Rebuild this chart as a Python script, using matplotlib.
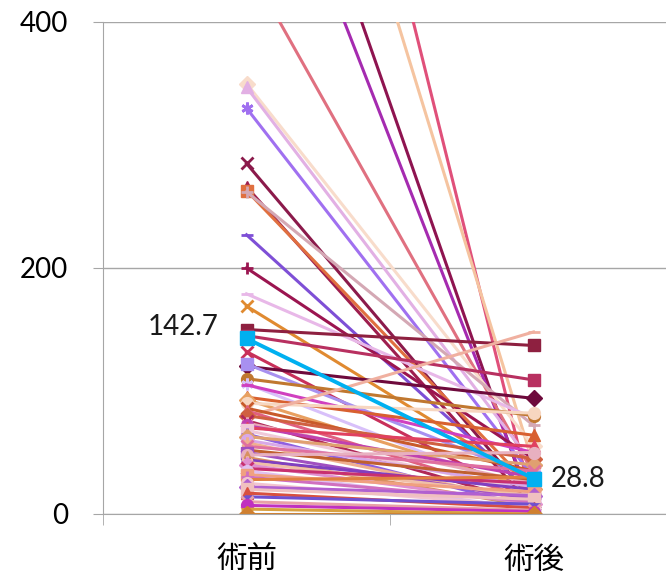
import matplotlib
matplotlib.use("Agg")
import matplotlib.pyplot as plt
from matplotlib.ticker import FixedLocator

plt.rcParams['font.family'] = ['Lato', 'Noto Sans CJK JP', 'DejaVu Sans']

categories = ['術前', '術後']

# one value pair per patient: before / after surgery
pre_values = [947, 800, 668, 604, 448, 350, 347, 330, 285, 266,
              263, 262, 227, 200, 179, 169, 150, 145, 132, 120,
              122, 110, 106, 105, 95, 93, 90, 79, 86, 84,
              80, 76, 74, 72, 70, 68, 65, 63, 60, 58,
              55, 52, 50, 48, 46, 44, 42, 40, 37, 35,
              32, 30, 28, 25, 22, 20, 17, 14, 10, 7,
              4, 0]
post_values = [6, 40, 0, 6, 33, 55, 40, 30, 10, 5,
               20, 72, 15, 45, 78, 25, 137, 109, 10, 94,
               30, 80, 15, 50, 64, 20, 82, 148, 35, 12,
               45, 8, 25, 30, 55, 18, 5, 40, 22, 10,
               35, 28, 12, 50, 6, 20, 15, 8, 25, 4,
               18, 10, 30, 6, 15, 12, 5, 8, 3, 2,
               0, 0]

mean_values = [142.7, 28.8]

AST = (6, 2, 0)
line_colors = ['#E0507A', '#F5C4A0', '#8E1450', '#A52BB0', '#E07080', '#F8DCCB', '#E2B0E4', '#A070F0', '#8B1A4B', '#9E1E4E',
               '#E07040', '#D4A8B4', '#7E4FD6', '#9B1550', '#E8B8E8', '#E08A30', '#8E2040', '#B83060', '#C8305A', '#6E0A3C',
               '#A890F0', '#C07830', '#D8C0FA', '#D040C0', '#D86030', '#E8A060', '#F7D6C0', '#F0B0A0', '#C85A2A', '#E06080',
               '#D06040', '#B02858', '#E8A8B8', '#C040B0', '#E04060', '#F0C8D8', '#9060E0', '#E0A070', '#D8A8E8', '#F0B090',
               '#E070A0', '#C06030', '#A050C0', '#E8B0C0', '#D89060', '#8040C0', '#F0C0A8', '#E090D0', '#C83070', '#E0C0F0',
               '#F0A080', '#D070C0', '#E08040', '#F2C4D0', '#B060D0', '#F0C0C0', '#D85040', '#7050D0', '#E8A0A8', '#C030C0',
               '#D8A040', '#D08030']
line_markers = ['o', 'D', 's', '^', 'x', 'D', '^', AST, 'x', '^',
                's', '+', '_', '+', '_', 'x', 's', 's', 'x', 'D',
                's', 'o', AST, '_', '^', 'D', 'o', '_', 'x', '^',
                'D', 'x', AST, 'o', '^', 's', '+', 'D', 'o', AST,
                'x', '_', 's', 'o', '^', '_', AST, 'D', 'x', 'o',
                's', '+', '_', 'o', 'D', 's', '^', '_', 'x', 'o',
                '_', 'D']

fig = plt.figure(figsize=(6.66, 5.8), dpi=100)
ax = fig.add_axes([103 / 666, 66 / 580, 574 / 666, 492 / 580])

x = [0, 1]
for i in range(len(pre_values)):
    m = line_markers[i]
    mew = 2.0 if m in ('x', '+', '_', AST) else 1.0
    ax.plot(x, [pre_values[i], post_values[i]], color=line_colors[i], lw=2.2,
            marker=m, markersize=8.5, markeredgewidth=mew, zorder=2)

ax.plot(x, mean_values, color='#00B0F0', lw=2.8, marker='s', markersize=10, zorder=5)
ax.annotate(f'{mean_values[0]:.1f}', (0, mean_values[0]), xytext=(-28, 11),
            textcoords='offset pixels', ha='right', va='center', fontsize=20, color='#1a1a1a')
ax.annotate(f'{mean_values[1]:.1f}', (1, mean_values[1]), xytext=(17, 0),
            textcoords='offset pixels', ha='left', va='center', fontsize=20, color='#1a1a1a')

ax.set_xlim(-0.5, 1.5)
ax.set_ylim(0, 400)
ax.set_yticks([0, 200, 400])
ax.yaxis.grid(True, color='#a6a6a6', lw=1)
ax.set_axisbelow(True)

ax.set_xticks(x)
ax.set_xticklabels(categories, fontfamily=['Noto Sans CJK JP'], fontsize=22)
ax.xaxis.set_minor_locator(FixedLocator([-0.5, 0.5, 1.5]))
ax.tick_params(axis='x', which='major', length=0, pad=22)
ax.tick_params(axis='x', which='minor', length=8, color='#a6a6a6')
ax.tick_params(axis='y', length=7, color='#a6a6a6', labelsize=20, pad=18)

for side in ('top', 'right'):
    ax.spines[side].set_visible(False)
for side in ('left', 'bottom'):
    ax.spines[side].set_color('#a6a6a6')

fig.savefig('out.png', dpi=100)
